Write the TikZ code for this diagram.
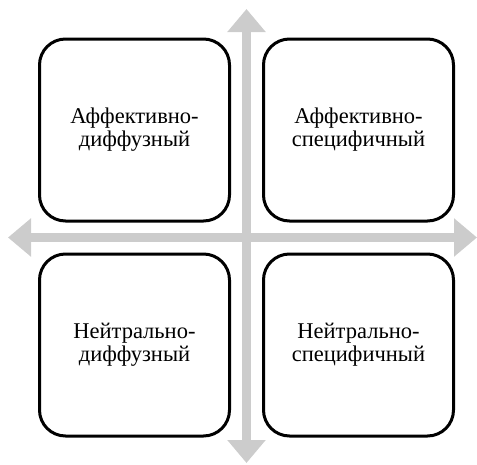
\documentclass[tikz,border=0pt]{standalone}
\usepackage{fontspec}
\setmainfont{Liberation Serif}
\newfontfamily\quadfont[Script=Cyrillic]{Liberation Serif}
\usetikzlibrary{arrows.meta, positioning}

\tikzset{
    quadbox/.style={draw=black, line width=3pt, rounded corners=26pt, fill=white,
        minimum width=190pt, minimum height=182pt, align=center,
        font=\quadfont\fontsize{22.5}{23}\selectfont},
    axisarrow/.style={draw=black!20, line width=9pt,
        {Triangle[width=37pt,length=23pt]}-{Triangle[width=37pt,length=23pt]}}
}

\begin{document}
\begin{tikzpicture}[x=1pt, y=-1pt]
    \useasboundingbox (0,0) rectangle (477,464);

    % Axis end points
    \coordinate (left)   at (8,237.5);
    \coordinate (right)  at (477,237.5);
    \coordinate (top)    at (246.5,9);
    \coordinate (bottom) at (246.5,463);

    % Gray axes
    \draw[axisarrow] (left) -- (right);
    \draw[axisarrow] (top) -- (bottom);

    % Quadrants
    \node[quadbox] (affdiff) at (134.5,130) {Аффективно-\\диффузный};
    \node[quadbox] (affspec) at (358.5,130) {Аффективно-\\специфичный};
    \node[quadbox] (neutdiff) at (134.5,345) {Нейтрально-\\диффузный};
    \node[quadbox] (neutspec) at (358.5,345) {Нейтрально-\\специфичный};
\end{tikzpicture}
\end{document}
